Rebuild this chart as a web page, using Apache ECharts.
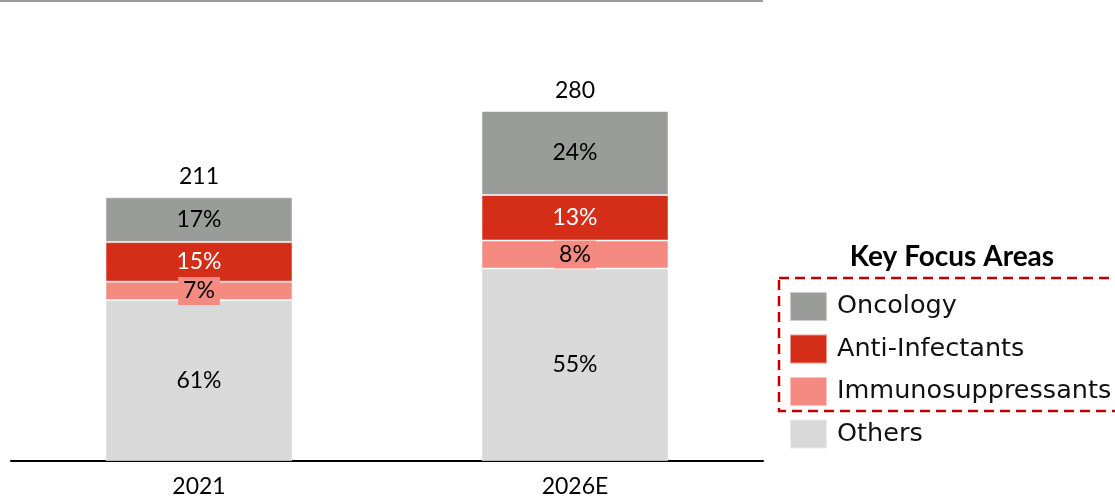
<!DOCTYPE html>
<html>
<head>
<meta charset="utf-8">
<script src="https://cdn.jsdelivr.net/npm/echarts@6/dist/echarts.min.js"></script>
<style>
  html, body { margin: 0; padding: 0; background: #fff; }
  #chart { width: 1115px; height: 498px; }
</style>
</head>
<body>
<div id="chart"></div>
<script>
const categories = ['2021', '2026E'];
const totals = [211, 280];
const oncologyPct = [17, 24];
const antiInfectantsPct = [15, 13];
const immunoPct = [7, 8];
const othersPct = [61, 55];
const seriesNames = ['Oncology', 'Anti-Infectants', 'Immunosuppressants', 'Others'];
const legendTitle = 'Key Focus Areas';

const colors = {
  Oncology: '#999c99',
  'Anti-Infectants': '#d52e18',
  Immunosuppressants: '#f58a80',
  Others: '#d9d9d9'
};

const FONT = 'Lato';

function toValues(pcts) {
  return pcts.map((p, i) => ({ value: totals[i] * p / 100, pct: p }));
}

function barSeries(name, pcts, labelColor, extraLabel) {
  return {
    name: name,
    type: 'bar',
    stack: 'total',
    barWidth: 187,
    data: toValues(pcts),
    itemStyle: { color: colors[name], borderColor: 'rgba(255,255,255,0.5)', borderWidth: 1 },
    label: Object.assign({
      show: true,
      position: 'inside',
      formatter: p => p.data.pct + '%',
      color: labelColor,
      fontFamily: FONT,
      fontSize: 23
    }, extraLabel || {}),
    emphasis: { disabled: true }
  };
}

// order from bottom to top
const series = [
  barSeries('Others', othersPct, '#000'),
  barSeries('Immunosuppressants', immunoPct, '#000', {
    backgroundColor: colors.Immunosuppressants,
    padding: [3, 5, 2, 5]
  }),
  barSeries('Anti-Infectants', antiInfectantsPct, '#fff'),
  barSeries('Oncology', oncologyPct, '#000'),
  {
    name: 'Total',
    type: 'scatter',
    data: totals,
    symbol: 'circle',
    symbolSize: 2,
    itemStyle: { color: 'rgba(255,255,255,0)' },
    silent: true,
    z: 10,
    label: {
      show: true,
      position: 'top',
      distance: 8,
      color: '#000000',
      opacity: 1,
      textBorderWidth: 0,
      fontFamily: FONT,
      fontSize: 23,
      formatter: p => String(p.value)
    },
    emphasis: { disabled: true }
  }
];

const chart = echarts.init(document.getElementById('chart'), null, { renderer: 'canvas' });
chart.setOption({
  animation: false,
  backgroundColor: '#fff',
  grid: { left: 11, right: 352, top: 11, bottom: 37, containLabel: false },
  xAxis: {
    type: 'category',
    data: categories,
    axisLine: { lineStyle: { color: '#000', width: 2 } },
    axisTick: { show: false },
    axisLabel: { color: '#000', fontFamily: FONT, fontSize: 23, margin: 14 }
  },
  yAxis: {
    type: 'value',
    min: 0,
    max: 360,
    show: false,
    splitLine: { show: false }
  },
  legend: {
    data: seriesNames,
    orient: 'vertical',
    left: 789,
    top: 291,
    padding: 0,
    itemWidth: 37,
    itemHeight: 29,
    itemGap: 11.5,
    icon: 'rect',
    selectedMode: false,
    textStyle: { fontFamily: 'DejaVu Sans', fontSize: 25.5, color: '#111', padding: [0, 0, 0, 5] }
  },
  graphic: [
    {
      type: 'line',
      shape: { x1: 0, y1: 1, x2: 763, y2: 1 },
      style: { stroke: '#999c99', lineWidth: 2 }
    },
    {
      type: 'rect',
      shape: { x: 779, y: 278, width: 345, height: 133 },
      style: { fill: 'none', stroke: '#c00000', lineWidth: 2.5, lineDash: [10, 6] }
    },
    {
      type: 'text',
      x: 952,
      y: 257,
      style: {
        text: legendTitle,
        fontFamily: FONT,
        fontWeight: 'bold',
        fontSize: 28,
        fill: '#000',
        textAlign: 'center',
        textVerticalAlign: 'middle'
      }
    }
  ],
  series: series
});
</script>
</body>
</html>
